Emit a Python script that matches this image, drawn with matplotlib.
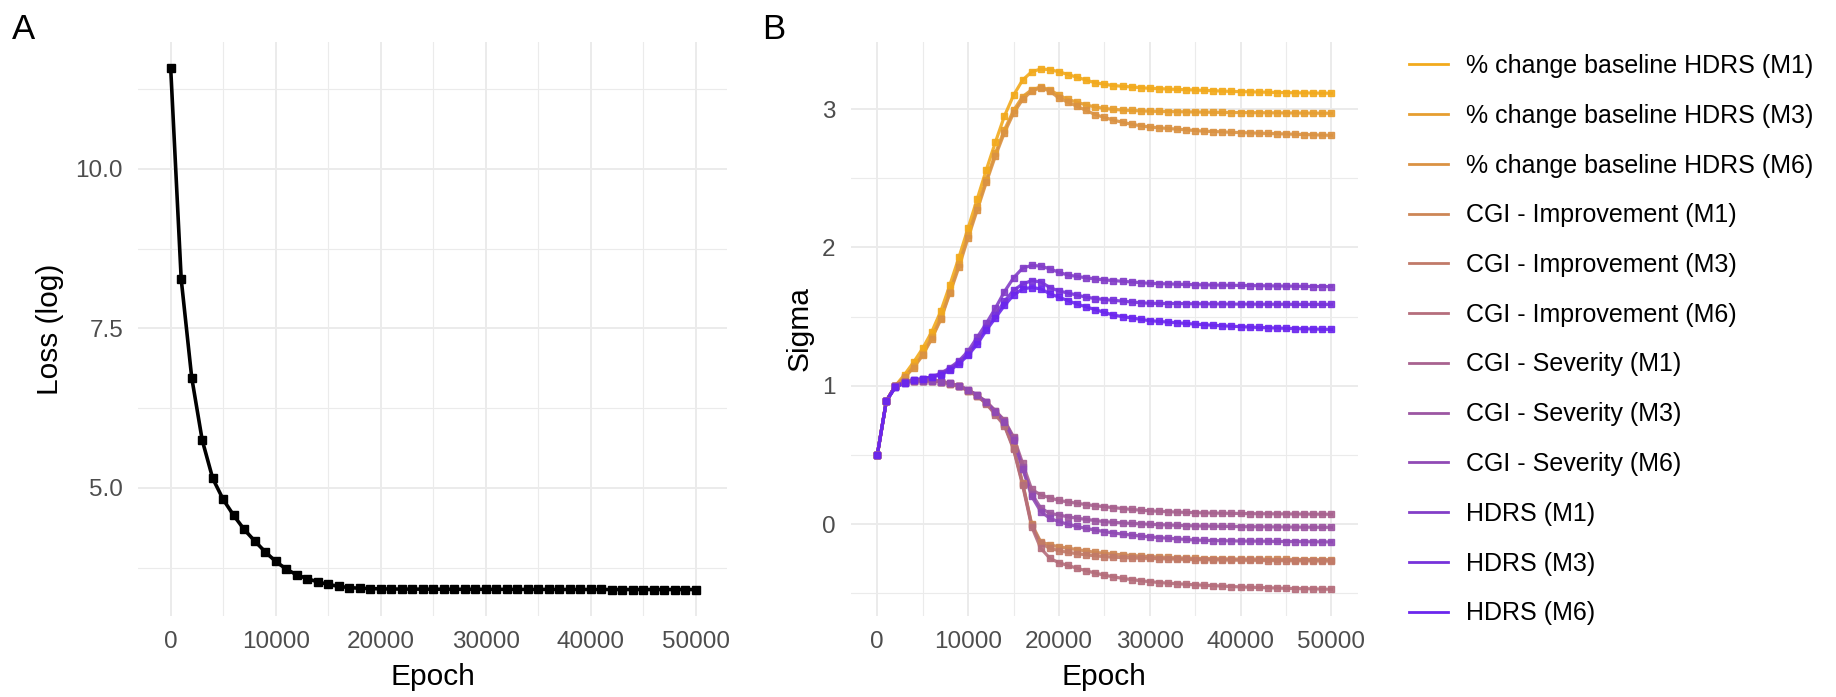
#!/usr/bin/env python3
"""Training loss and sigma trajectories (two-panel figure)."""

import matplotlib

matplotlib.use("Agg")
import matplotlib.pyplot as plt
import numpy as np
from matplotlib.colors import LinearSegmentedColormap
from matplotlib.lines import Line2D
from matplotlib.ticker import FixedLocator

# ---- data (one value every 1000 epochs, 0 .. 50000) ----
epochs = np.arange(0, 50001, 1000)

loss = [11.57, 8.27, 6.73, 5.75, 5.15, 4.82, 4.57, 4.35, 4.17, 4.00,
        3.85, 3.73, 3.64, 3.58, 3.53, 3.49, 3.46, 3.44, 3.43, 3.425,
        3.42, 3.418, 3.417, 3.416, 3.416, 3.415, 3.415, 3.414, 3.414, 3.414,
        3.413, 3.413, 3.413, 3.412, 3.412, 3.412, 3.412, 3.411, 3.411, 3.411,
        3.411, 3.411, 3.41, 3.41, 3.41, 3.41, 3.41, 3.41, 3.41, 3.41,
        3.41]

labels = [
    "% change baseline HDRS (M1)",
    "% change baseline HDRS (M3)",
    "% change baseline HDRS (M6)",
    "CGI - Improvement (M1)",
    "CGI - Improvement (M3)",
    "CGI - Improvement (M6)",
    "CGI - Severity (M1)",
    "CGI - Severity (M3)",
    "CGI - Severity (M6)",
    "HDRS (M1)",
    "HDRS (M3)",
    "HDRS (M6)",
]

pct_m1 = [0.50, 0.89, 1.00, 1.08, 1.17, 1.27, 1.39, 1.54, 1.73, 1.93,
          2.14, 2.35, 2.56, 2.76, 2.95, 3.10, 3.21, 3.27, 3.29, 3.285,
          3.27, 3.25, 3.23, 3.21, 3.19, 3.18, 3.17, 3.165, 3.16, 3.155,
          3.15, 3.148, 3.145, 3.142, 3.14, 3.138, 3.135, 3.133, 3.13, 3.128,
          3.126, 3.125, 3.123, 3.122, 3.12, 3.119, 3.118, 3.117, 3.116, 3.115,
          3.115]
pct_m3 = [0.50, 0.89, 1.00, 1.06, 1.14, 1.23, 1.35, 1.49, 1.68, 1.88,
          2.09, 2.29, 2.49, 2.68, 2.85, 2.99, 3.09, 3.14, 3.16, 3.14,
          3.10, 3.07, 3.05, 3.03, 3.015, 3.005, 2.998, 2.993, 2.99, 2.987,
          2.985, 2.983, 2.982, 2.981, 2.98, 2.979, 2.978, 2.977, 2.976, 2.975,
          2.975, 2.974, 2.974, 2.973, 2.973, 2.972, 2.972, 2.971, 2.971, 2.97,
          2.97]
pct_m6 = [0.50, 0.89, 1.00, 1.06, 1.13, 1.22, 1.34, 1.48, 1.67, 1.86,
          2.07, 2.27, 2.47, 2.66, 2.83, 2.97, 3.07, 3.13, 3.155, 3.13,
          3.08, 3.05, 3.02, 2.99, 2.96, 2.94, 2.92, 2.905, 2.89, 2.88,
          2.87, 2.865, 2.86, 2.855, 2.85, 2.845, 2.84, 2.838, 2.835, 2.832,
          2.83, 2.828, 2.826, 2.824, 2.822, 2.82, 2.818, 2.816, 2.814, 2.812,
          2.81]

cgi_i_m1 = [0.50, 0.89, 1.00, 1.025, 1.035, 1.037, 1.036, 1.03, 1.015, 0.995,
            0.965, 0.925, 0.875, 0.80, 0.72, 0.55, 0.29, 0.00, -0.13, -0.15,
            -0.165, -0.175, -0.185, -0.195, -0.205, -0.212, -0.218, -0.223, -0.228, -0.232,
            -0.236, -0.239, -0.242, -0.245, -0.247, -0.249, -0.25, -0.251, -0.252, -0.253,
            -0.254, -0.254, -0.255, -0.255, -0.256, -0.256, -0.257, -0.257, -0.258, -0.258,
            -0.258]
cgi_i_m3 = [0.50, 0.89, 1.00, 1.025, 1.035, 1.037, 1.036, 1.03, 1.015, 0.995,
            0.965, 0.925, 0.875, 0.80, 0.72, 0.55, 0.30, -0.01, -0.14, -0.175,
            -0.193, -0.205, -0.215, -0.223, -0.23, -0.236, -0.24, -0.243, -0.245, -0.247,
            -0.248, -0.25, -0.252, -0.254, -0.256, -0.257, -0.258, -0.259, -0.26, -0.261,
            -0.262, -0.262, -0.263, -0.264, -0.264, -0.265, -0.266, -0.266, -0.267, -0.267,
            -0.268]
cgi_i_m6 = [0.50, 0.89, 1.00, 1.025, 1.035, 1.037, 1.036, 1.03, 1.015, 0.995,
            0.965, 0.925, 0.87, 0.79, 0.71, 0.54, 0.28, -0.02, -0.176, -0.248,
            -0.28, -0.30, -0.32, -0.338, -0.355, -0.37, -0.382, -0.393, -0.402, -0.41,
            -0.417, -0.423, -0.428, -0.432, -0.436, -0.44, -0.443, -0.446, -0.449, -0.452,
            -0.455, -0.457, -0.459, -0.461, -0.463, -0.465, -0.467, -0.468, -0.469, -0.471,
            -0.472]

cgi_s_m1 = [0.50, 0.89, 1.00, 1.025, 1.035, 1.037, 1.036, 1.03, 1.016, 0.998,
            0.97, 0.932, 0.885, 0.82, 0.75, 0.63, 0.44, 0.25, 0.21, 0.19,
            0.17, 0.16, 0.15, 0.14, 0.132, 0.125, 0.118, 0.112, 0.105, 0.10,
            0.095, 0.092, 0.089, 0.086, 0.084, 0.082, 0.08, 0.079, 0.078, 0.077,
            0.076, 0.075, 0.074, 0.074, 0.073, 0.073, 0.072, 0.072, 0.071, 0.071,
            0.07]
cgi_s_m3 = [0.50, 0.89, 1.00, 1.025, 1.035, 1.037, 1.036, 1.03, 1.016, 0.998,
            0.97, 0.93, 0.882, 0.815, 0.745, 0.62, 0.41, 0.22, 0.115, 0.077,
            0.065, 0.052, 0.042, 0.033, 0.025, 0.017, 0.012, 0.008, 0.004, 0.001,
            -0.002, -0.005, -0.007, -0.01, -0.012, -0.014, -0.015, -0.016, -0.017, -0.018,
            -0.019, -0.02, -0.02, -0.021, -0.021, -0.022, -0.022, -0.023, -0.023, -0.024,
            -0.024]
cgi_s_m6 = [0.50, 0.89, 1.00, 1.025, 1.035, 1.037, 1.036, 1.03, 1.016, 0.998,
            0.97, 0.93, 0.88, 0.81, 0.74, 0.61, 0.40, 0.20, 0.09, 0.041,
            0.017, -0.002, -0.018, -0.032, -0.044, -0.055, -0.065, -0.073, -0.08, -0.087,
            -0.093, -0.098, -0.103, -0.107, -0.112, -0.116, -0.118, -0.12, -0.121, -0.122,
            -0.123, -0.124, -0.124, -0.125, -0.126, -0.127, -0.127, -0.128, -0.129, -0.129,
            -0.13]

hdrs_m1 = [0.50, 0.89, 0.99, 1.02, 1.04, 1.05, 1.065, 1.09, 1.13, 1.18,
           1.25, 1.35, 1.45, 1.56, 1.68, 1.78, 1.85, 1.87, 1.865, 1.845,
           1.82, 1.80, 1.79, 1.78, 1.772, 1.765, 1.76, 1.755, 1.75, 1.745,
           1.74, 1.738, 1.736, 1.734, 1.732, 1.73, 1.729, 1.728, 1.727, 1.726,
           1.725, 1.724, 1.723, 1.722, 1.721, 1.72, 1.719, 1.718, 1.717, 1.717,
           1.716]
hdrs_m3 = [0.50, 0.89, 0.99, 1.02, 1.04, 1.05, 1.062, 1.085, 1.12, 1.17,
           1.23, 1.32, 1.42, 1.51, 1.61, 1.69, 1.735, 1.76, 1.75, 1.71,
           1.685, 1.67, 1.655, 1.64, 1.63, 1.623, 1.617, 1.612, 1.605, 1.60,
           1.596, 1.595, 1.594, 1.594, 1.593, 1.592, 1.592, 1.591, 1.591, 1.59,
           1.59, 1.59, 1.589, 1.589, 1.589, 1.589, 1.588, 1.588, 1.588, 1.588,
           1.588]
hdrs_m6 = [0.50, 0.89, 0.99, 1.02, 1.04, 1.05, 1.06, 1.08, 1.11, 1.16,
           1.22, 1.30, 1.40, 1.49, 1.58, 1.655, 1.70, 1.71, 1.70, 1.665,
           1.64, 1.615, 1.59, 1.57, 1.55, 1.53, 1.51, 1.50, 1.49, 1.48,
           1.47, 1.465, 1.46, 1.455, 1.45, 1.445, 1.441, 1.437, 1.433, 1.43,
           1.427, 1.424, 1.421, 1.419, 1.417, 1.415, 1.413, 1.411, 1.41, 1.408,
           1.407]

sigma_series = [pct_m1, pct_m3, pct_m6,
                cgi_i_m1, cgi_i_m3, cgi_i_m6,
                cgi_s_m1, cgi_s_m3, cgi_s_m6,
                hdrs_m1, hdrs_m3, hdrs_m6]

# ---- style ----
plt.rcParams["font.family"] = ["Liberation Sans", "DejaVu Sans"]
GRID = "#EBEBEB"
TICK_COLOR = "#4D4D4D"
W, H = 1836, 697

cmap = LinearSegmentedColormap.from_list("orange_purple", ["#F2AA1D", "#6B26EE"])
colors = [cmap(i / (len(labels) - 1)) for i in range(len(labels))]


def px_box(left, top, right, bottom):
    """Axes rectangle from pixel edges."""
    return [left / W, 1 - bottom / H, (right - left) / W, (bottom - top) / H]


def style_axes(ax, xlabel, ylabel, ylabel_x):
    ax.set_facecolor("white")
    for spine in ax.spines.values():
        spine.set_visible(False)
    ax.grid(which="major", color=GRID, linewidth=1.4)
    ax.grid(which="minor", color=GRID, linewidth=0.8)
    ax.set_axisbelow(True)
    ax.tick_params(which="both", length=0, labelsize=17.5, labelcolor=TICK_COLOR, pad=11)
    ax.xaxis.set_major_locator(FixedLocator([0, 10000, 20000, 30000, 40000, 50000]))
    ax.xaxis.set_minor_locator(FixedLocator([5000, 15000, 25000, 35000, 45000]))
    ax.set_xlabel(xlabel, fontsize=21.5, va="center")
    ax.set_ylabel(ylabel, fontsize=21.5, va="center")
    ax.xaxis.set_label_coords(0.5, -0.107)
    ax.yaxis.set_label_coords(ylabel_x, 0.5)


fig = plt.figure(figsize=(W / 100, H / 100), dpi=100)

# ---- panel A: loss ----
ax_a = fig.add_axes(px_box(138.3, 42.3, 726.7, 615.7))
ax_a.plot(epochs, loss, color="black", lw=2.6, zorder=3)
ax_a.plot(epochs, loss, ls="none", marker="s", ms=5.5, color="black", zorder=4)
ax_a.set_xlim(-3086, 52950)
ax_a.set_ylim(3.0, 11.98)
ax_a.yaxis.set_major_locator(FixedLocator([5.0, 7.5, 10.0]))
ax_a.yaxis.set_minor_locator(FixedLocator([3.75, 6.25, 8.75, 11.25]))
ax_a.set_yticklabels(["5.0", "7.5", "10.0"])
style_axes(ax_a, "Epoch", "Loss (log)", -0.150)

# ---- panel B: sigma ----
ax_b = fig.add_axes(px_box(850.7, 42.3, 1358.0, 615.7))
for vals, col in zip(sigma_series, colors):
    ax_b.plot(epochs, vals, color=col, lw=2.3, alpha=0.9, zorder=3)
for vals, col in zip(sigma_series, colors):
    ax_b.plot(epochs, vals, ls="none", marker="s", ms=4.5, color=col, alpha=0.9, zorder=4)
ax_b.set_xlim(-2929, 52929)
ax_b.set_ylim(-0.663, 3.483)
ax_b.yaxis.set_major_locator(FixedLocator([0, 1, 2, 3]))
ax_b.yaxis.set_minor_locator(FixedLocator([-0.5, 0.5, 1.5, 2.5]))
ax_b.set_yticklabels(["0", "1", "2", "3"])
style_axes(ax_b, "Epoch", "Sigma", -0.100)

handles = [Line2D([], [], color=c, lw=2.0) for c in colors]
fig.legend(handles, labels, loc="upper left", bbox_to_anchor=(1409 / W, 1 - 54 / H),
           frameon=False, fontsize=18, handlelength=1.55, handletextpad=0.72,
           labelspacing=1.03, borderpad=0, borderaxespad=0)

# panel tags
fig.text(11.7 / W, 1 - 39 / H, "A", fontsize=25, va="baseline", ha="left")
fig.text(762 / W, 1 - 39 / H, "B", fontsize=25, va="baseline", ha="left")

fig.savefig("out.png", dpi=100, facecolor="white")
